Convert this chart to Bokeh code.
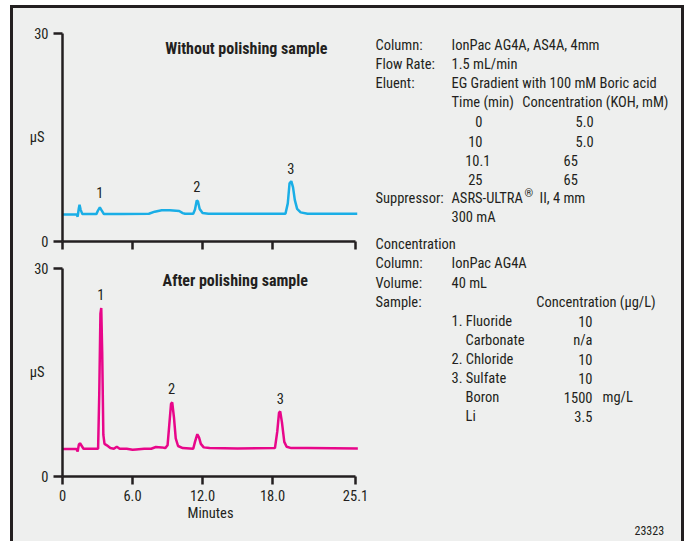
from bokeh.plotting import figure
from bokeh.layouts import row, column
from bokeh.models import Range1d, FixedTicker, Label, LinearAxis
from bokeh.embed import file_html
from bokeh.resources import INLINE
from bokeh.core.properties import value

# ---------------- data ----------------
t_without = [0.0, 1.2, 1.3, 1.4, 1.46, 1.55, 1.7, 2.9, 3.05, 3.2, 3.35, 3.55, 5.0, 7.4, 7.9, 8.5,
             9.2, 10.0, 10.3, 10.5, 11.2, 11.35, 11.5, 11.6, 11.75, 12.0, 12.5, 15.0, 19.1, 19.3,
             19.45, 19.6, 19.75, 19.9, 20.1, 20.4, 21.0, 25.25]
uS_without = [3.9, 3.9, 3.6, 4.8, 5.3, 4.6, 3.95, 3.95, 4.5, 4.9, 4.5, 3.95, 3.95, 4.0, 4.3, 4.5,
              4.5, 4.4, 4.1, 4.0, 4.0, 4.6, 5.9, 5.8, 4.7, 4.1, 4.0, 4.0, 4.0, 5.5,
              8.4, 8.7, 7.8, 6.0, 4.7, 4.2, 4.0, 4.0]

t_after = [0.0, 1.2, 1.3, 1.4, 1.5, 1.65, 1.8, 2.0, 3.05, 3.15, 3.25, 3.32, 3.4, 3.5, 3.6, 3.8,
           4.1, 4.4, 4.65, 4.9, 5.5, 6.0, 6.3, 7.0, 7.6, 8.0, 8.5, 8.8, 9.0, 9.15, 9.3, 9.4, 9.55,
           9.7, 9.9, 10.3, 11.2, 11.35, 11.55, 11.7, 11.85, 12.1, 12.6, 15.0, 18.2, 18.4, 18.55,
           18.65, 18.8, 19.0, 19.2, 19.6, 21.0, 25.3]
uS_after = [3.95, 3.95, 3.6, 4.6, 4.8, 4.4, 4.0, 4.0, 4.0, 12.0, 23.5, 24.3, 18.0, 6.0, 4.7, 4.5,
            4.1, 4.0, 4.3, 4.0, 4.0, 3.85, 3.9, 4.0, 4.0, 4.25, 4.2, 4.1, 4.5, 7.5, 10.5, 10.7, 8.5,
            5.5, 4.4, 4.1, 4.0, 5.0, 6.1, 5.6, 4.7, 4.2, 4.1, 4.05, 4.1, 6.5, 9.2,
            9.4, 7.8, 5.0, 4.3, 4.1, 4.1, 4.05]

x_ticks = [0, 6, 12, 18, 25.1]
x_tick_labels = ["0", "6.0", "12.0", "18.0", "25.1"]
y_ticks = [0, 30]
y_tick_labels = ["0", "30"]
y_unit = "µS"
y_unit_at = 15

peak_names = ["1", "2", "3"]
peaks_without_t = [3.2, 11.5, 19.55]
peaks_without_label_y = [7.0, 7.9, 10.6]
peaks_after_t = [3.28, 9.34, 18.67]
peaks_after_label_y = [26.2, 12.65, 11.3]

titles = ["Without  polishing sample", "After polishing sample"]

gradient_time = ["0", "10", "10.1", "25"]
gradient_conc = ["5.0", "5.0", "65", "65"]
analytes = ["1. Fluoride", "Carbonate", "2. Chloride", "3. Sulfate", "Boron", "Li"]
analyte_conc = ["10", "n/a", "10", "10", "1500", "3.5"]

# ---------------- style ----------------
BG = "#eeefee"
INK = "#231f20"
BLUE = "#1aaee6"
MAGENTA = "#e8068a"
FONT = "Roboto Condensed"
FS = "14.5px"
PX_PER_MIN = 11.673
PX_PER_US = 6.933


def chrom_fig(height, frame_h, bottom, show_labels):
    p = figure(width=358, height=height, output_backend="svg", toolbar_location=None,
               x_range=Range1d(0, 296 / PX_PER_MIN), y_range=Range1d(0, frame_h / PX_PER_US),
               min_border_left=49, min_border_right=13, min_border_top=0,
               min_border_bottom=bottom)
    p.background_fill_color = BG
    p.border_fill_color = BG
    p.outline_line_color = None
    p.grid.visible = False
    for ax in (p.xaxis[0], p.yaxis[0]):
        ax.axis_line_color = INK
        ax.axis_line_width = 2.5
        ax.major_tick_line_color = INK
        ax.major_tick_line_width = 2.5
        ax.major_tick_in = 0
        ax.minor_tick_line_color = None
        ax.major_label_text_font = FONT
        ax.major_label_text_font_size = FS
        ax.major_label_text_color = INK
    xa = p.xaxis[0]
    xa.ticker = FixedTicker(ticks=x_ticks)
    xa.major_label_overrides = {k: v for k, v in zip(x_ticks, x_tick_labels)}
    xa.bounds = (0, 25.1)
    xa.major_tick_out = 8
    if show_labels:
        xa.axis_label = "Minutes"
        xa.axis_label_text_font = FONT
        xa.axis_label_text_font_size = FS
        xa.axis_label_text_font_style = "normal"
        xa.axis_label_text_color = INK
        xa.axis_label_standoff = 1
        xa.major_label_standoff = 5
    else:
        xa.major_label_text_font_size = "1px"
        xa.major_label_text_color = None
        xa.major_label_standoff = 0
    ya = p.yaxis[0]
    ya.ticker = FixedTicker(ticks=y_ticks)
    ya.major_label_overrides = {k: v for k, v in zip(y_ticks, y_tick_labels)}
    ya.bounds = (0, 30)
    ya.major_tick_out = 9
    ya.major_label_standoff = 5
    ya.major_label_orientation = "horizontal"
    # unit label as a second, line-less axis on the left
    ua = LinearAxis(ticker=FixedTicker(ticks=[y_unit_at]),
                    major_label_overrides={y_unit_at: y_unit})
    ua.axis_line_color = None
    ua.major_tick_line_color = None
    ua.minor_tick_line_color = None
    ua.major_tick_out = 0
    ua.major_tick_in = 0
    ua.major_label_standoff = -13
    ua.major_label_orientation = "horizontal"
    ua.major_label_text_font = FONT
    ua.major_label_text_font_size = FS
    ua.major_label_text_color = INK
    p.add_layout(ua, "left")
    return p


p1 = chrom_fig(247, 233, 14, False)
p1.line(t_without, uS_without, line_color=BLUE, line_width=2.5)
p1.add_layout(Label(x=15.9, y=27.8, text=titles[0], text_font=FONT, text_font_size="16px",
                    text_font_style="bold", text_color=INK, text_align="center",
                    text_baseline="middle"))
p1.text(x=peaks_without_t, y=peaks_without_label_y, text=peak_names, text_font=value(FONT),
        text_font_size=FS, text_color=INK, text_align="center", text_baseline="middle")

p2 = chrom_fig(286, 221, 65, True)
p2.line(t_after, uS_after, line_color=MAGENTA, line_width=2.5)
p2.add_layout(Label(x=14.8, y=28.2, text=titles[1], text_font=FONT, text_font_size="16px",
                    text_font_style="bold", text_color=INK, text_align="center",
                    text_baseline="middle"))
p2.text(x=peaks_after_t, y=peaks_after_label_y, text=peak_names, text_font=value(FONT),
        text_font_size=FS, text_color=INK, text_align="center", text_baseline="middle")

# ---------------- info panel ----------------
PH = 533
pt = figure(width=310, height=PH, output_backend="svg", toolbar_location=None,
            x_range=Range1d(0, 310), y_range=Range1d(PH, 0),
            min_border=0, min_border_left=0, min_border_right=0, min_border_top=0,
            min_border_bottom=0)
pt.axis.visible = False
pt.grid.visible = False
pt.outline_line_color = None
pt.background_fill_color = BG
pt.border_fill_color = BG

ROW = 19.1
top0 = 37.0
low0 = 236.3
XL, XV, XI = 4, 80, 94

lt, lx, ly = [], [], []   # left aligned
rt, rx, ry = [], [], []   # right aligned


def L(t, x, y):
    lt.append(t); lx.append(x); ly.append(y)


def R(t, x, y):
    rt.append(t); rx.append(x); ry.append(y)


L("Column:", XL, top0); L("IonPac AG4A, AS4A, 4mm", XV, top0)
L("Flow Rate:", XL, top0 + ROW); L("1.5 mL/min", XV, top0 + ROW)
L("Eluent:", XL, top0 + 2 * ROW); L("EG Gradient with 100 mM Boric acid", XV, top0 + 2 * ROW)
L("Time (min)", XV, top0 + 3 * ROW); L("Concentration (KOH, mM)", 150.7, top0 + 3 * ROW)
time_right = [111, 111, 119, 111]
conc_left = [204, 204, 192, 192]
for i, (tm, cc) in enumerate(zip(gradient_time, gradient_conc)):
    R(tm, time_right[i], top0 + (4 + i) * ROW)
    L(cc, conc_left[i], top0 + (4 + i) * ROW)
L("Suppressor:", XL, top0 + 8 * ROW); L("ASRS-ULTRA", XV, top0 + 8 * ROW)
L("II, 4 mm", 168, top0 + 8 * ROW)
L("300 mA", XV, top0 + 9 * ROW)

L("Concentration", XL, low0)
L("Column:", XL, low0 + ROW); L("IonPac AG4A", XV, low0 + ROW)
L("Volume:", XL, low0 + 2 * ROW); L("40 mL", XV, low0 + 2 * ROW)
L("Sample:", XL, low0 + 3 * ROW); L("Concentration (µg/L)", 164.7, low0 + 3 * ROW)
for i, (a, c) in enumerate(zip(analytes, analyte_conc)):
    L(a, XV if a[0].isdigit() else XI, low0 + (4 + i) * ROW)
    R(c, 221, low0 + (4 + i) * ROW)
L("mg/L", 231, low0 + 8 * ROW)

pt.text(x=lx, y=ly, text=lt, text_font=value(FONT), text_font_size=FS, text_color=INK,
        text_align="left", text_baseline="middle")
pt.text(x=rx, y=ry, text=rt, text_font=value(FONT), text_font_size=FS, text_color=INK,
        text_align="right", text_baseline="middle")
pt.text(x=[153], y=[top0 + 8 * ROW - 5], text=["®"], text_font=value(FONT),
        text_font_size="11px", text_color=INK, text_align="left", text_baseline="middle")
pt.text(x=[263], y=[522], text=["23323"], text_font=value(FONT), text_font_size="12px",
        text_color=INK, text_align="left", text_baseline="middle")

layout = row(column(p1, p2), pt,
             styles={"margin-left": "10px", "margin-top": "5px",
                     "border-top": "3px solid #231f20", "border-left": "3px solid #231f20",
                     "border-right": "3px solid #231f20", "background-color": BG})

open("out.html", "w").write(file_html(layout, INLINE))
